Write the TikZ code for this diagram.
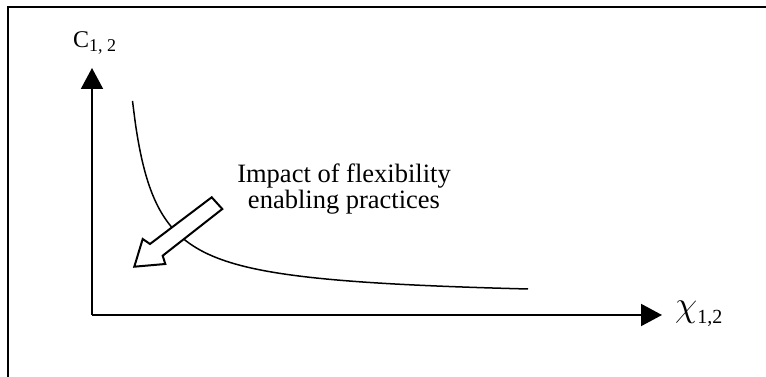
\RequirePackage{fix-cm}
\documentclass[tikz,border=0pt]{standalone}
\usepackage{fontspec}
\setmainfont{Liberation Serif}
\usetikzlibrary{arrows.meta, positioning}

\begin{document}
\begin{tikzpicture}[
            x=1pt, y=1pt,
            frame/.style={line width=2pt},
            axis/.style={line width=2pt, -{Triangle[length=21pt, width=22pt]}},
            cost/.style={line width=1.5pt},
            blockarrow/.style={line width=2pt, fill=white, line join=miter},
            lbl/.style={inner sep=0pt, align=center}
        ]
            \useasboundingbox (0,0) rectangle (766,377);
            % frame of the figure
            \draw[frame] (7.5,-5) |- (775,370);

            % axes
            \coordinate (origin) at (92,62);
            \coordinate (ytip) at (92,309);
            \coordinate (xtip) at (662,62);
            \draw[axis] (origin) -- (ytip);
            \draw[axis] (origin) -- (xtip);
            \node[lbl, anchor=base west] (ylab) at (73,329) {\fontsize{24}{28}\selectfont C\raisebox{-4pt}{\fontsize{18}{20}\selectfont 1, 2}};
            \node[lbl, anchor=base west] (xlab) at (675,60) {\fontsize{36}{40}\selectfont$\chi$\raisebox{-7pt}{\fontsize{20}{22}\selectfont 1,2}};

            % trade-off curve
            \draw[cost] plot[domain=132.5:528, samples=120, smooth] (\x, {77.3+4473/(\x-110)});

            % block arrow
            \draw[blockarrow] (211.7,179.7) -- (222.3,168) -- (162.7,121.3) -- (165.3,113)
                -- (134.3,110.3) -- (142.7,138) -- (150,133) -- cycle;
            \node[lbl] (impact) at (344,188) {\fontsize{26.5}{30}\selectfont Impact of flexibility\\ \fontsize{26.5}{30}\selectfont enabling practices};
        \end{tikzpicture}
\end{document}
